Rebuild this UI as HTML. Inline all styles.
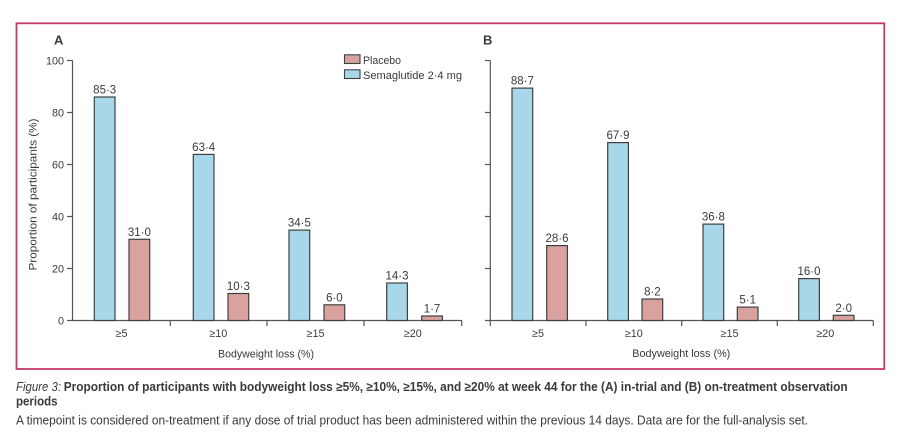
<!DOCTYPE html>
<html>
<head>
<meta charset="utf-8">
<style>
  html, body { margin: 0; padding: 0; background: #ffffff; }
  body { width: 900px; height: 440px; overflow: hidden; }
  svg { display: block; }
  text { font-family: "Liberation Sans", Arial, sans-serif; fill: #3a3a3a; }
</style>
</head>
<body>
<svg width="900" height="440" viewBox="0 0 900 440" xmlns="http://www.w3.org/2000/svg">
  <!-- frame -->
  <rect x="16.5" y="23.3" width="867.8" height="345.7" fill="none" stroke="#c8386c" stroke-width="1.8"/>

  <!-- Panel letters -->
  <text x="54" y="44.3" font-size="13" font-weight="bold" fill="#2a2a2a">A</text>
  <text x="483" y="44.3" font-size="13" font-weight="bold" fill="#2a2a2a">B</text>

  <!-- ===== Panel A axes ===== -->
  <g stroke="#555" stroke-width="1.2" fill="none">
    <line x1="72.5" y1="60.5" x2="72.5" y2="320.5"/>
    <line x1="67" y1="60.5" x2="72.5" y2="60.5"/>
    <line x1="67" y1="112.5" x2="72.5" y2="112.5"/>
    <line x1="67" y1="164.5" x2="72.5" y2="164.5"/>
    <line x1="67" y1="216.5" x2="72.5" y2="216.5"/>
    <line x1="67" y1="268.5" x2="72.5" y2="268.5"/>
    <line x1="67" y1="320.5" x2="72.5" y2="320.5"/>
    <line x1="72" y1="320.5" x2="462" y2="320.5"/>
    <line x1="170.3" y1="320.5" x2="170.3" y2="326"/>
    <line x1="267" y1="320.5" x2="267" y2="326"/>
    <line x1="364" y1="320.5" x2="364" y2="326"/>
    <line x1="461.7" y1="320.5" x2="461.7" y2="326"/>
  </g>
  <g font-size="10.8" text-anchor="end">
    <text x="64" y="64.3">100</text>
    <text x="64" y="116.3">80</text>
    <text x="64" y="168.3">60</text>
    <text x="64" y="220.3">40</text>
    <text x="64" y="272.3">20</text>
    <text x="64" y="324.3">0</text>
  </g>
  <text transform="translate(36.3,194.5) rotate(-90)" font-size="11.2" text-anchor="middle" textLength="152" lengthAdjust="spacingAndGlyphs">Proportion of participants (%)</text>

  <!-- Panel A bars -->
  <g stroke="#404040" stroke-width="1.2">
    <rect x="94.3" y="97.0" width="20.7" height="223.5" fill="#a7d7e8"/>
    <rect x="129" y="239.3" width="20.7" height="81.2" fill="#d9a29f"/>
    <rect x="193.3" y="154.4" width="20.7" height="166.1" fill="#a7d7e8"/>
    <rect x="228" y="293.5" width="20.7" height="27" fill="#d9a29f"/>
    <rect x="289" y="230.1" width="20.7" height="90.4" fill="#a7d7e8"/>
    <rect x="324" y="304.8" width="20.7" height="15.7" fill="#d9a29f"/>
    <rect x="386.7" y="283.0" width="20.7" height="37.5" fill="#a7d7e8"/>
    <rect x="421.7" y="316.0" width="20.7" height="4.5" fill="#d9a29f"/>
  </g>
  <g font-size="11.5" text-anchor="middle">
    <text x="104.7" y="93.5">85·3</text>
    <text x="139.4" y="235.8">31·0</text>
    <text x="203.7" y="150.9">63·4</text>
    <text x="238.4" y="290">10·3</text>
    <text x="299.4" y="226.6">34·5</text>
    <text x="334.4" y="301.3">6·0</text>
    <text x="397" y="279.5">14·3</text>
    <text x="432" y="312.5">1·7</text>
  </g>
  <g font-size="10.8" text-anchor="middle">
    <text x="121.5" y="337">≥5</text>
    <text x="218.3" y="337">≥10</text>
    <text x="315.5" y="337">≥15</text>
    <text x="412.8" y="337">≥20</text>
  </g>
  <text x="266" y="357.3" font-size="11.2" text-anchor="middle" textLength="96" lengthAdjust="spacingAndGlyphs">Bodyweight loss (%)</text>

  <!-- Legend -->
  <g stroke="#404040" stroke-width="1.1">
    <rect x="344.5" y="54.8" width="15.5" height="8.7" fill="#d9a29f"/>
    <rect x="344.5" y="69.8" width="15.5" height="8.7" fill="#a7d7e8"/>
  </g>
  <text x="363" y="64" font-size="11.2" textLength="38" lengthAdjust="spacingAndGlyphs">Placebo</text>
  <text x="363" y="79.2" font-size="11.2" textLength="99" lengthAdjust="spacingAndGlyphs">Semaglutide 2·4 mg</text>

  <!-- ===== Panel B axes ===== -->
  <g stroke="#555" stroke-width="1.2" fill="none">
    <line x1="490.3" y1="60.5" x2="490.3" y2="326"/>
    <line x1="485" y1="60.5" x2="490.3" y2="60.5"/>
    <line x1="485" y1="112.5" x2="490.3" y2="112.5"/>
    <line x1="485" y1="164.5" x2="490.3" y2="164.5"/>
    <line x1="485" y1="216.5" x2="490.3" y2="216.5"/>
    <line x1="485" y1="268.5" x2="490.3" y2="268.5"/>
    <line x1="485" y1="320.5" x2="490.3" y2="320.5"/>
    <line x1="490" y1="320.5" x2="873.5" y2="320.5"/>
    <line x1="586" y1="320.5" x2="586" y2="326"/>
    <line x1="681.7" y1="320.5" x2="681.7" y2="326"/>
    <line x1="777.3" y1="320.5" x2="777.3" y2="326"/>
    <line x1="873.3" y1="320.5" x2="873.3" y2="326"/>
  </g>

  <!-- Panel B bars -->
  <g stroke="#404040" stroke-width="1.2">
    <rect x="512" y="88.1" width="20.7" height="232.4" fill="#a7d7e8"/>
    <rect x="546.7" y="245.6" width="20.7" height="74.9" fill="#d9a29f"/>
    <rect x="607.7" y="142.6" width="20.7" height="177.9" fill="#a7d7e8"/>
    <rect x="642" y="299.0" width="20.7" height="21.5" fill="#d9a29f"/>
    <rect x="703" y="224.1" width="20.7" height="96.4" fill="#a7d7e8"/>
    <rect x="737.3" y="307.1" width="20.7" height="13.4" fill="#d9a29f"/>
    <rect x="798.7" y="278.6" width="20.7" height="41.9" fill="#a7d7e8"/>
    <rect x="833.3" y="315.3" width="20.7" height="5.2" fill="#d9a29f"/>
  </g>
  <g font-size="11.5" text-anchor="middle">
    <text x="522.4" y="84.6">88·7</text>
    <text x="557" y="242.1">28·6</text>
    <text x="618" y="139.1">67·9</text>
    <text x="652.4" y="295.5">8·2</text>
    <text x="713.4" y="220.6">36·8</text>
    <text x="747.7" y="303.6">5·1</text>
    <text x="809" y="275.1">16·0</text>
    <text x="843.7" y="311.8">2·0</text>
  </g>
  <g font-size="10.8" text-anchor="middle">
    <text x="538" y="337">≥5</text>
    <text x="633.8" y="337">≥10</text>
    <text x="729.5" y="337">≥15</text>
    <text x="825.3" y="337">≥20</text>
  </g>
  <text x="681.3" y="357" font-size="11.2" text-anchor="middle" textLength="98" lengthAdjust="spacingAndGlyphs">Bodyweight loss (%)</text>

  <!-- Caption -->
  <text x="16" y="391" font-size="12.5" font-style="italic" fill="#2a2a2a" textLength="45" lengthAdjust="spacingAndGlyphs">Figure 3:</text>
  <text x="63.7" y="391" font-size="12.5" font-weight="bold" fill="#2a2a2a" textLength="784" lengthAdjust="spacingAndGlyphs">Proportion of participants with bodyweight loss ≥5%, ≥10%, ≥15%, and ≥20% at week 44 for the (A) in-trial and (B) on-treatment observation</text>
  <text x="16" y="405.7" font-size="12.5" font-weight="bold" fill="#2a2a2a" textLength="41.5" lengthAdjust="spacingAndGlyphs">periods</text>
  <text x="16" y="424.3" font-size="12.5" fill="#2a2a2a" textLength="792" lengthAdjust="spacingAndGlyphs">A timepoint is considered on-treatment if any dose of trial product has been administered within the previous 14 days. Data are for the full-analysis set.</text>
</svg>
</body>
</html>
